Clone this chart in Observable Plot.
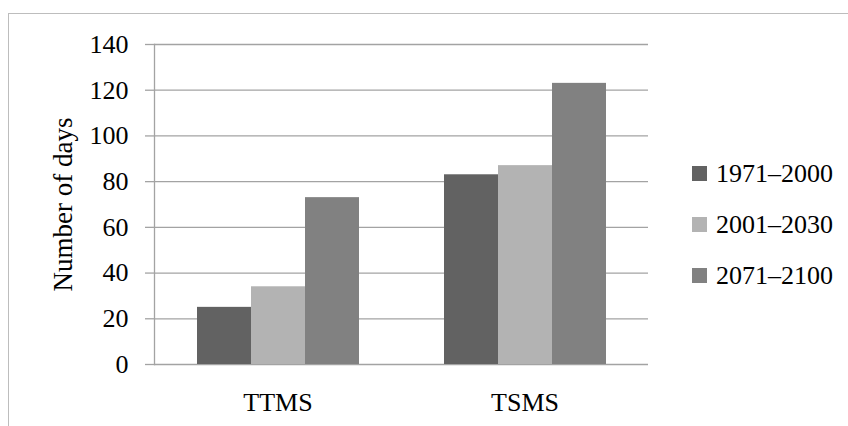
<!DOCTYPE html>
<html>
<head>
<meta charset="utf-8">
<script src="https://cdn.jsdelivr.net/npm/d3@7"></script>
<script src="https://cdn.jsdelivr.net/npm/@observablehq/plot@0.6"></script>
<style>
  html, body { margin: 0; padding: 0; background: #fff; }
  #wrap { position: relative; width: 848px; height: 426px; overflow: hidden;
          font-family: "Liberation Serif", "DejaVu Serif", serif; }
  #edge { position: absolute; left: 8px; top: 13px; width: 900px; height: 500px;
          border-left: 1.5px solid #bdbdbd; border-top: 1.5px solid #bdbdbd; }
  #chart { position: absolute; left: 0; top: 0; }
  #legend { position: absolute; left: 692px; top: 148px; }
  .row { display: flex; align-items: center; height: 51px; font-size: 26px; color: #000; }
  .sw { width: 15px; height: 15px; margin-right: 9px; flex: none; }
</style>
</head>
<body>
<div id="wrap">
  <div id="edge"></div>
  <div id="chart"></div>
  <div id="legend"></div>
</div>
<script>
// Categories, periods and values
const categories = ["TTMS", "TSMS"];
const periods = ["1971–2000", "2001–2030", "2071–2100"];
const daysTTMS = [25, 34, 73];
const daysTSMS = [83, 87, 123];
const yTicks = [0, 20, 40, 60, 80, 100, 120, 140];
const periodColors = ["#626262", "#b3b3b3", "#818181"];

const rows = [];
[daysTTMS, daysTSMS].forEach((vals, i) => {
  vals.forEach((v, j) => rows.push({cat: categories[i], period: periods[j], days: v}));
});

const gridColor = "#a3a3a3";

const plot = Plot.plot({
  width: 848,
  height: 426,
  marginLeft: 153,
  marginRight: 200,
  marginTop: 44,
  marginBottom: 62,
  style: {fontFamily: "'Liberation Serif', 'DejaVu Serif', serif", fontSize: "26px", color: "#000", background: "transparent"},
  fx: {domain: categories, padding: 0, label: null},
  x: {domain: periods, paddingInner: 0, paddingOuter: 0.76, axis: null},
  y: {domain: [0, 140], label: null},
  color: {domain: periods, range: periodColors},
  marks: [
    // horizontal grid, repeated in each (abutting) facet
    Plot.ruleY(yTicks, {stroke: gridColor, strokeWidth: 1.3}),
    // vertical value-axis line, left facet only
    Plot.frame({anchor: "left", facetAnchor: "left", stroke: gridColor, strokeWidth: 1.3}),
    Plot.barY(rows, {fx: "cat", x: "period", y: "days", fill: "period", inset: 0}),
    Plot.axisY(yTicks, {
      anchor: "left", tickSize: 9, tickPadding: 17,
      stroke: gridColor, strokeWidth: 1.3,
      label: null
    }),
    // value-axis title
    Plot.text(["Number of days"], {
      facetAnchor: "left", frameAnchor: "left", textAnchor: "middle",
      rotate: -90, dx: -91, fontSize: 27, fill: "#000"
    }),
    Plot.axisFx({anchor: "bottom", tickSize: 0, tickPadding: 28, label: null})
  ]
});
document.getElementById("chart").appendChild(plot);

// Legend built from the plot's colour scale
const colorScale = plot.scale("color");
const legend = d3.select("#legend");
colorScale.domain.forEach((d, i) => {
  const row = legend.append("div").attr("class", "row");
  row.append("div").attr("class", "sw").style("background", colorScale.range[i]);
  row.append("span").text(d);
});
</script>
</body>
</html>
